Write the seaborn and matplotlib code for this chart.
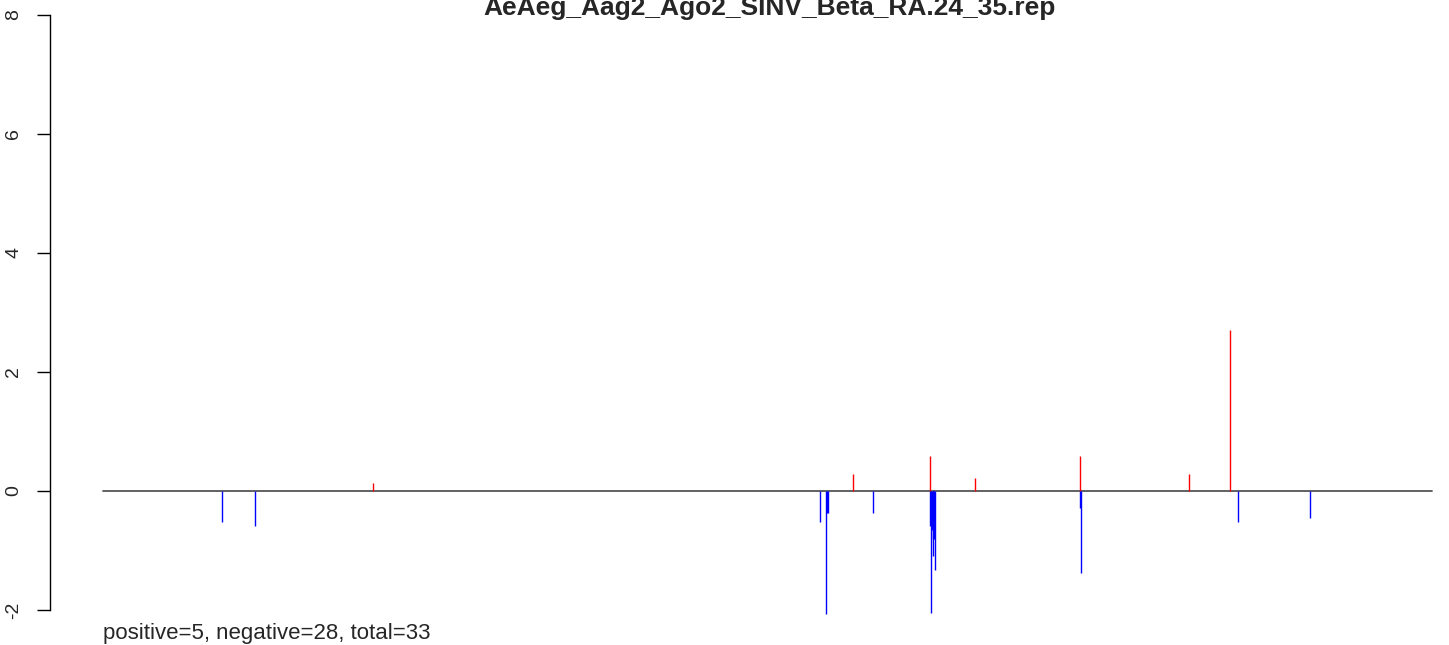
import matplotlib
matplotlib.use('Agg')
import matplotlib.pyplot as plt
import seaborn as sns
import pandas as pd

title = 'AeAeg_Aag2_Ago2_SINV_Beta_RA.24_35.rep'
summary = 'positive=5, negative=28, total=33'
genome_len = 11703

# stem positions (nt) and values
positions = [1049, 1339, 2378,
             6314, 6367, 6376, 6385, 6605, 6781,
             7283, 7283, 7292, 7301, 7305, 7310, 7318, 7327,
             7679, 8603, 8603, 8612, 9563, 9924, 9995, 10629]
values = [-0.52, -0.58, 0.14,
          -0.52, -2.07, -0.37, -0.37, 0.29, -0.37,
          0.59, -0.59, -2.05, -0.66, -1.1, -0.8, -0.8, -1.32,
          0.22, 0.59, -0.29, -1.38, 0.29, 2.71, -0.52, -0.45]
yticks = [-2, 0, 2, 4, 6, 8]

df = pd.DataFrame({'pos': positions, 'val': values})
df['col'] = ['red' if v > 0 else 'blue' for v in df['val']]

sns.set_style('white')
plt.rcParams['font.family'] = ['Liberation Sans', 'DejaVu Sans']

W, H = 1449, 645
fig = plt.figure(figsize=(W / 100, H / 100), dpi=100)
ax = fig.add_axes([50 / W, 0, 1 - 50 / W, 1])

# pixel 103 -> 1, pixel 1432 -> genome_len
scale = (genome_len - 1) / (1432 - 103)
ax.set_xlim(1 - (103 - 50) * scale, 1 + (W - 103) * scale)
unit = 59.5
ax.set_ylim(-(H - 491) / unit, 491 / unit)

sns.lineplot(x=[1, genome_len], y=[0, 0], color='#555555', linewidth=1.3, ax=ax)
ax.vlines(df['pos'], 0, df['val'], colors=df['col'], linewidth=1.0)

for s in ['top', 'right', 'bottom']:
    ax.spines[s].set_visible(False)
ax.spines['left'].set_bounds(-2, 8)
ax.spines['left'].set_color('black')
ax.spines['left'].set_linewidth(1.0)
ax.set_xticks([])
ax.set_yticks(yticks)
ax.set_yticklabels([str(t) for t in yticks], rotation=90, va='center', fontsize=14)
ax.tick_params(axis='y', direction='out', length=9.5, width=1.0, color='black', pad=10.5, left=True)

fig.text(770 / W, 1 - 15 / H, title, ha='center', va='baseline', fontsize=19, fontweight='bold')
fig.text(103 / W, 1 - 639 / H, summary, ha='left', va='baseline', fontsize=16)

fig.savefig('out.png', dpi=100)
